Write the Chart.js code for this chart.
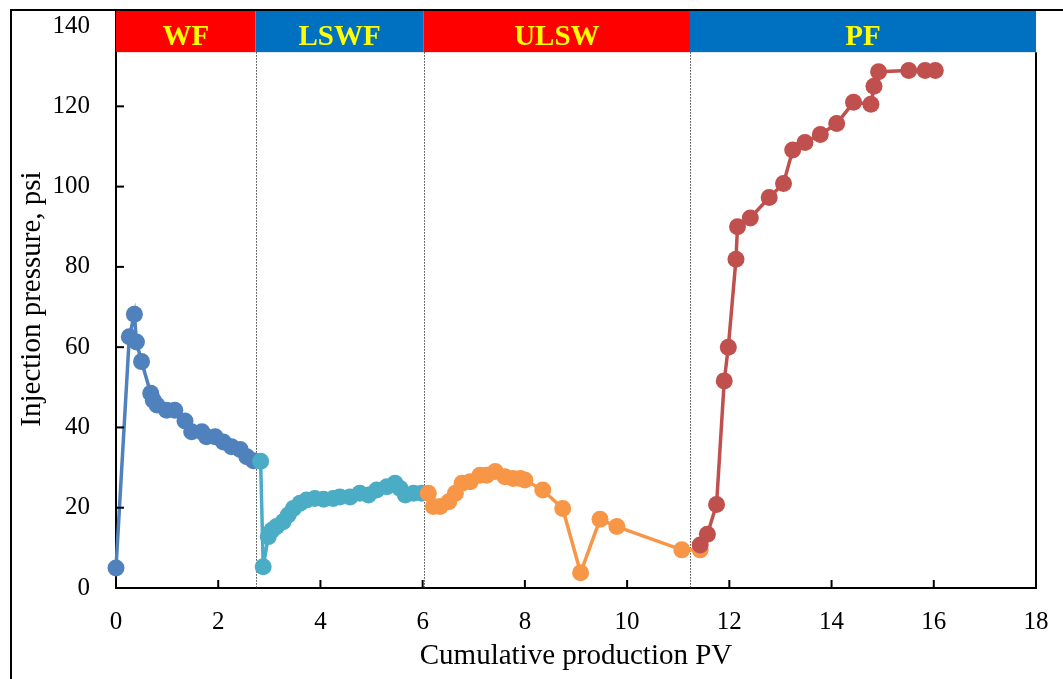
<!DOCTYPE html>
<html>
<head>
<meta charset="utf-8">
<script src="https://cdn.jsdelivr.net/npm/chart.js@4/dist/chart.umd.min.js"></script>
<style>
  html, body { margin: 0; padding: 0; background: #fff; }
  #wrap { width: 1063px; height: 679px; }
</style>
</head>
<body>
<div id="wrap"><canvas id="pressureChart" width="1063" height="679"></canvas></div>
<script>
// injection stages (labels + x boundaries in PV)
const stageNames = ['WF', 'LSWF', 'ULSW', 'PF'];
const stageEdges = [0, 2.73, 6.02, 11.23, 18];
const stageColors = ['#ff0000', '#0070c0', '#ff0000', '#0070c0'];

// axis ticks
const xTicks = [0, 2, 4, 6, 8, 10, 12, 14, 16, 18];
const yTicks = [0, 20, 40, 60, 80, 100, 120, 140];

// waterflooding
const wfX = [0, 0.26, 0.36, 0.40, 0.50, 0.68, 0.73, 0.80, 0.99, 1.15, 1.35, 1.48, 1.68, 1.77, 1.94, 2.10, 2.26, 2.43, 2.56, 2.69];
const wfY = [5, 62.6, 68.2, 61.3, 56.4, 48.5, 46.8, 45.6, 44.3, 44.3, 41.6, 38.9, 38.9, 37.7, 37.7, 36.4, 35.2, 34.5, 32.7, 31.7];

// low salinity waterflooding
const lswfX = [2.83, 2.88, 2.98, 3.05, 3.14, 3.27, 3.37, 3.47, 3.60, 3.73, 3.89, 4.06, 4.25, 4.38, 4.58, 4.77, 4.94, 5.10, 5.30, 5.46, 5.56, 5.66, 5.82, 5.98];
const lswfY = [31.6, 5.3, 12.8, 14.4, 15.3, 16.5, 18.2, 19.8, 21.1, 21.9, 22.3, 22.1, 22.3, 22.7, 22.7, 23.6, 23.2, 24.4, 25.2, 26.1, 24.8, 23.2, 23.6, 23.6];

// ultra low salinity water
const ulswX = [6.11, 6.21, 6.34, 6.51, 6.64, 6.77, 6.93, 7.12, 7.25, 7.42, 7.61, 7.77, 7.91, 8.00, 8.35, 8.74, 9.09, 9.47, 9.80, 11.07, 11.43];
const ulswY = [23.6, 20.3, 20.3, 21.5, 23.6, 26.1, 26.5, 28.1, 28.1, 29.0, 27.7, 27.3, 27.3, 26.9, 24.4, 19.8, 3.8, 17.1, 15.3, 9.5, 9.5];

// polymer flooding
const pfX = [11.43, 11.57, 11.75, 11.90, 11.98, 12.13, 12.16, 12.41, 12.78, 13.06, 13.24, 13.48, 13.78, 14.10, 14.43, 14.77, 14.83, 14.92, 15.51, 15.83, 16.03];
const pfY = [10.7, 13.4, 20.8, 51.6, 60.0, 81.9, 90.0, 92.2, 97.3, 100.8, 109.1, 111.0, 113.0, 115.7, 121.0, 120.5, 125.0, 128.6, 128.9, 128.9, 128.9];

const bandBottom = 133.5;
const serif = '"Liberation Serif", "Times New Roman", serif';

function toPoints(xs, ys) {
  return xs.map((x, i) => ({ x, y: ys[i] }));
}

function series(label, xs, ys, color, order) {
  return {
    label,
    data: toPoints(xs, ys),
    borderColor: color,
    backgroundColor: color,
    pointBackgroundColor: color,
    pointBorderColor: color,
    borderWidth: 3.5,
    pointRadius: 8.5,
    pointBorderWidth: 0,
    tension: 0,
    clip: false,
    order
  };
}

const decorations = {
  id: 'decorations',
  beforeDatasetsDraw(chart) {
    const { ctx, chartArea, scales: { x, y } } = chart;
    ctx.save();
    ctx.strokeStyle = '#444';
    ctx.lineWidth = 1;
    ctx.setLineDash([1.5, 1.5]);
    stageEdges.slice(1, -1).forEach(v => {
      const px = Math.round(x.getPixelForValue(v)) + 0.5;
      ctx.beginPath();
      ctx.moveTo(px, y.getPixelForValue(bandBottom));
      ctx.lineTo(px, chartArea.bottom);
      ctx.stroke();
    });
    ctx.restore();
  },
  afterDraw(chart) {
    const { ctx, chartArea, scales: { x, y } } = chart;
    const top = chartArea.top;
    const bottom = y.getPixelForValue(bandBottom);
    ctx.save();

    // inward tick marks
    ctx.strokeStyle = '#000';
    ctx.lineWidth = 2;
    x.ticks.forEach(t => {
      if (t.value <= 0 || t.value >= 18) return;
      const px = x.getPixelForValue(t.value);
      ctx.beginPath();
      ctx.moveTo(px, chartArea.bottom);
      ctx.lineTo(px, chartArea.bottom - 8);
      ctx.stroke();
    });
    y.ticks.forEach(t => {
      if (t.value <= 0) return;
      const py = y.getPixelForValue(t.value);
      ctx.beginPath();
      ctx.moveTo(chartArea.left, py);
      ctx.lineTo(chartArea.left + 8, py);
      ctx.stroke();
    });

    // right border of plot area
    ctx.beginPath();
    ctx.moveTo(chartArea.right, bottom);
    ctx.lineTo(chartArea.right, chartArea.bottom + 1);
    ctx.stroke();

    // stage bands
    stageNames.forEach((name, i) => {
      const x0 = x.getPixelForValue(stageEdges[i]);
      const x1 = x.getPixelForValue(stageEdges[i + 1]);
      ctx.fillStyle = stageColors[i];
      ctx.fillRect(x0, top, x1 - x0, bottom - top);
      ctx.fillStyle = '#ffff00';
      ctx.font = 'bold 29px ' + serif;
      ctx.textAlign = 'center';
      ctx.textBaseline = 'middle';
      ctx.fillText(name, (x0 + x1) / 2, (top + bottom) / 2 + 6);
    });

    // outer frame
    ctx.strokeStyle = '#000';
    ctx.lineWidth = 2;
    ctx.beginPath();
    ctx.moveTo(11, chart.height);
    ctx.lineTo(11, 10);
    ctx.lineTo(chart.width, 10);
    ctx.stroke();
    ctx.restore();
  }
};

new Chart(document.querySelector('#pressureChart'), {
  type: 'line',
  data: {
    datasets: [
      series('WF', wfX, wfY, '#4f81bd', 3),
      series('LSWF', lswfX, lswfY, '#4bacc6', 2),
      series('ULSW', ulswX, ulswY, '#f79646', 1),
      series('PF', pfX, pfY, '#c0504d', 0)
    ]
  },
  options: {
    responsive: false,
    animation: false,
    layout: { padding: { left: 0, top: 10, right: 27, bottom: 0 } },
    plugins: {
      legend: { display: false },
      tooltip: { enabled: false }
    },
    scales: {
      x: {
        type: 'linear',
        min: 0,
        max: 18,
        afterBuildTicks(scale) {
          scale.ticks = xTicks.map(v => ({ value: v }));
        },
        afterFit(scale) {
          scale.height = 91;
          scale.paddingLeft = 0;
          scale.paddingRight = 0;
        },
        ticks: {
          padding: 19,
          color: '#000',
          font: { family: serif, size: 25 }
        },
        grid: { display: true, drawOnChartArea: false, drawTicks: false },
        border: { display: true, color: '#000', width: 2 },
        title: {
          display: true,
          text: 'Cumulative production PV',
          color: '#000',
          font: { family: serif, size: 29 },
          padding: { top: 0, bottom: 5 }
        }
      },
      y: {
        min: 0,
        max: 144,
        afterBuildTicks(scale) {
          scale.ticks = yTicks.map(v => ({ value: v }));
        },
        afterFit(scale) {
          scale.width = 116;
          scale.paddingTop = 0;
          scale.paddingBottom = 0;
        },
        ticks: {
          padding: 26,
          color: '#000',
          font: { family: serif, size: 25 }
        },
        grid: { display: true, drawOnChartArea: false, drawTicks: false },
        border: { display: true, color: '#000', width: 2 },
        title: {
          display: true,
          text: 'Injection pressure, psi',
          color: '#000',
          font: { family: serif, size: 29 },
          padding: { top: 15, bottom: 0 }
        }
      }
    }
  },
  plugins: [decorations]
});
</script>
</body>
</html>
